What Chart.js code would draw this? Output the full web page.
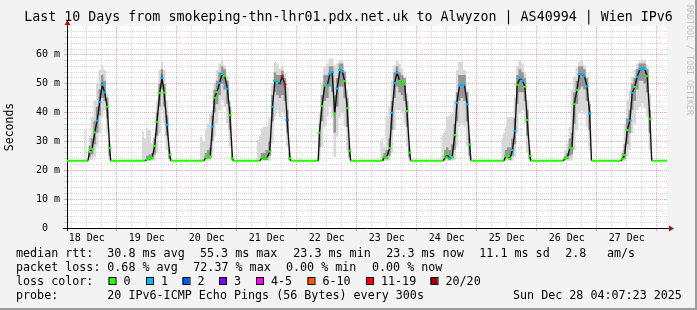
<!DOCTYPE html>
<html><head><meta charset="utf-8">
<script src="https://cdn.jsdelivr.net/npm/chart.js@4/dist/chart.umd.min.js"></script>
<style>html,body{margin:0;padding:0;background:#f3f3f3;}canvas{display:block}</style>
</head><body>
<canvas id="c" width="697" height="310"></canvas>
<script>
const titleText = 'Last 10 Days from smokeping-thn-lhr01.pdx.net.uk to Alwyzon | AS40994 | Wien IPv6';
const dayLabels = ['18 Dec','19 Dec','20 Dec','21 Dec','22 Dec','23 Dec','24 Dec','25 Dec','26 Dec','27 Dec'];
const rangeStartHour = 4.12;   // hours after 18 Dec 00:00
const rangeEndHour = 244.12;

const hours = [
  4.12,10.7,11.3,11.9,12.5,13.1,14.2,15.2,16.2,17.2,18.2,19.2,20.2,21.2,21.6,
  33.8,34.4,35.3,36.2,37.3,38.2,39.2,40.1,41.2,42.1,43.0,44.1,45.2,45.7,
  56.9,57.6,58.9,59.6,60.5,61.4,62.3,63.1,64.1,65.2,66.1,67.2,68.3,69.3,70.3,70.7,
  79.9,80.4,81.3,82.0,82.9,84.0,85.2,86.3,87.3,88.3,89.3,90.2,91.3,92.2,93.3,93.7,
  104.6,105.1,106.1,107.2,108.3,109.3,110.2,111.2,112.2,113.3,114.2,115.2,116.2,117.2,117.6,
  129.2,129.7,130.4,130.9,132.0,133.2,134.1,135.2,136.1,137.2,138.1,139.2,140.1,141.2,141.6,
  153.6,154.2,154.7,155.3,156.1,157.2,158.2,159.2,160.1,161.1,162.1,163.1,164.2,165.2,165.7,
  177.6,178.2,178.9,179.6,180.5,181.3,182.3,183.3,184.2,185.3,186.4,187.3,188.2,189.3,189.7,
  202.6,203.3,204.3,205.3,206.1,207.0,208.1,209.1,210.1,211.1,212.1,213.2,213.9,
  225.7,226.3,227.2,228.2,229.3,230.2,231.2,232.2,233.3,234.2,235.2,236.2,237.3,238.0,244.12
];
const medianMs = [
  23.3,23.3,23.3,23.3,23.3,26.4,27.4,33.1,37.2,43.7,49.6,47.0,42.0,27.7,23.3,
  23.3,23.3,23.3,23.8,24.0,24.4,28.4,36.7,46.8,52.0,46.9,35.8,25.4,23.3,
  23.3,23.3,23.3,24.5,24.7,24.8,35.1,45.1,47.1,50.3,53.3,52.7,48.3,39.1,24.1,23.3,
  23.3,23.3,23.3,24.4,24.1,24.1,26.5,42.0,51.0,50.4,50.1,52.6,49.7,37.4,24.1,23.3,
  23.3,33.0,42.2,49.3,49.6,53.5,54.0,39.7,48.3,54.7,54.3,50.9,41.5,26.8,23.3,
  23.3,23.3,23.3,24.5,24.5,27.7,39.9,50.3,53.8,51.0,50.3,49.8,40.5,26.1,23.3,
  23.3,23.3,23.3,24.5,25.5,24.1,24.6,32.2,43.4,49.3,49.6,49.6,42.9,28.9,23.3,
  23.3,23.3,23.3,24.9,24.9,24.1,27.0,33.7,49.6,51.9,51.0,48.9,37.4,25.0,23.3,
  23.3,24.1,24.5,27.8,27.6,42.9,47.8,53.3,53.3,52.6,49.1,39.7,23.3,
  23.3,24.0,25.3,33.9,37.2,46.8,48.9,52.4,55.0,55.3,55.1,52.6,37.7,23.3,23.3
];
const n = null;
const lossBucket = [
  n,n,n,n,n,0,0,0,1,1,1,1,0,0,n,
  n,n,n,0,0,0,0,0,0,1,0,1,0,n,
  n,n,n,0,0,0,1,0,0,1,1,0,1,0,0,n,
  n,n,n,0,0,0,0,1,1,0,2,6,6,2,0,n,
  n,0,0,0,1,1,1,0,1,1,1,0,0,0,n,
  n,n,n,0,0,0,1,1,1,0,0,0,0,0,n,
  n,n,n,0,0,1,0,0,1,1,1,1,1,0,n,
  n,n,n,0,0,0,1,1,0,1,1,0,0,0,n,
  n,0,0,0,0,0,0,1,1,1,1,1,n,
  n,0,0,0,1,1,0,1,1,1,1,0,0,n,n
];
const smokeMin = [
  23.3,23.3,23.3,23.3,23.3,23.5,23.5,24.5,28.2,32.8,38.5,40.8,32.8,23.5,23.3,
  23.3,23.3,23.3,23.3,23.3,23.3,23.5,25.9,32.8,40.8,36.2,27.0,23.3,23.3,
  23.3,23.3,23.3,23.3,23.3,23.3,24.7,31.6,36.2,40.8,44.3,42.0,36.2,28.2,23.3,23.3,
  23.3,23.3,23.3,23.3,23.3,23.3,23.3,29.3,38.5,40.8,38.5,39.7,38.5,28.2,23.3,23.3,
  23.3,23.5,28.2,35.1,38.5,42.0,38.5,24.7,31.6,38.5,39.7,35.1,27.0,23.5,23.3,
  23.3,23.3,23.3,23.3,23.3,23.3,26.0,33.9,40.8,40.8,39.7,36.2,28.2,23.3,23.3,
  23.3,23.3,23.3,23.3,23.3,23.3,23.3,23.5,28.2,35.1,36.2,35.1,28.2,23.5,23.3,
  23.3,23.3,23.3,23.3,23.3,23.3,23.3,24.7,32.8,39.7,40.8,36.2,26.0,23.3,23.3,
  23.3,23.3,23.3,23.3,23.5,27.0,33.9,39.7,40.8,39.7,35.1,27.0,23.3,
  23.3,23.3,23.3,24.7,27.0,32.8,36.2,40.8,42.0,43.1,41.5,38.5,27.0,23.3,23.3
];
const smokeLo = [
  23.3,23.3,23.3,23.3,23.3,24.5,25.5,29.0,33.0,39.0,45.0,44.0,38.0,25.0,23.3,
  23.3,23.3,23.3,23.5,23.5,23.8,25.5,32.0,42.0,48.0,42.0,32.0,24.0,23.3,
  23.3,23.3,23.3,23.8,24.0,24.0,30.0,40.0,43.0,46.0,50.0,48.0,43.0,34.0,23.5,23.3,
  23.3,23.3,23.3,23.8,23.6,23.6,25.0,37.0,47.0,46.0,45.0,46.0,44.0,33.0,23.5,23.3,
  23.3,28.0,37.0,44.0,45.0,49.0,47.0,33.0,42.0,49.0,49.0,45.0,35.0,24.5,23.3,
  23.3,23.3,23.3,23.8,23.8,25.0,34.0,45.0,49.0,47.0,46.0,44.0,35.0,24.5,23.3,
  23.3,23.3,23.3,23.8,24.0,23.6,24.0,27.0,37.0,44.0,45.0,44.0,37.0,25.0,23.3,
  23.3,23.3,23.3,24.0,24.0,23.6,25.0,29.0,43.0,47.0,47.0,44.0,32.0,23.8,23.3,
  23.3,23.6,23.8,25.0,25.5,36.0,43.0,48.0,49.0,48.0,44.0,34.0,23.3,
  23.3,23.6,24.0,29.0,33.0,41.0,44.0,48.0,51.0,51.0,50.0,47.0,33.0,23.3,23.3
];
const smokeHi = [
  23.3,23.3,23.3,23.3,23.3,28.5,31.0,37.0,42.0,48.0,53.0,51.0,45.0,29.0,23.3,
  23.3,23.3,23.3,25.0,25.5,26.0,31.0,40.0,50.0,55.0,50.0,39.0,27.0,23.3,
  23.3,23.3,23.3,26.0,27.0,28.0,39.0,48.0,51.0,54.0,56.0,55.0,51.0,42.0,25.0,23.3,
  23.3,23.3,23.3,26.0,26.0,27.0,30.0,46.0,54.0,53.0,53.0,54.5,52.0,41.0,26.0,23.3,
  23.3,36.0,46.0,53.0,53.0,56.0,56.0,46.0,52.0,57.0,57.0,54.0,45.0,28.5,23.3,
  23.3,23.3,23.3,26.0,27.0,31.0,44.0,54.0,56.0,54.0,53.0,52.0,44.0,28.0,23.3,
  23.3,23.3,23.3,27.0,28.0,27.0,29.0,36.0,47.0,53.0,53.0,53.0,47.0,31.0,23.3,
  23.3,23.3,23.3,27.0,28.0,28.0,31.0,38.0,53.0,55.0,54.0,52.0,41.0,27.0,23.3,
  23.3,25.0,26.0,31.0,33.0,47.0,51.0,56.0,56.0,55.0,52.0,43.0,23.3,
  23.3,26.0,29.0,38.0,41.0,50.0,52.0,55.0,57.0,57.0,57.0,55.0,41.0,23.3,23.3
];
const smokeMax = [
  23.3,23.3,34.0,23.3,23.3,32.0,38.5,44.3,50.1,54.7,56.4,54.7,46.6,30.5,23.3,
  23.3,33.5,31.0,34.5,33.9,29.3,32.8,44.3,54.7,57.6,54.7,44.3,28.2,23.3,
  23.3,31.6,30.0,33.9,36.2,39.7,40.8,50.1,54.7,57.0,58.1,56.4,52.4,44.3,27.0,23.3,
  23.3,30.5,32.0,34.5,35.1,35.1,38.5,50.1,57.6,57.0,55.3,55.8,53.5,48.9,28.2,23.3,
  23.3,39.7,50.1,55.8,57.0,58.7,58.7,56.4,57.0,58.1,58.1,54.7,47.8,29.5,23.3,
  23.3,30.0,31.0,28.2,38.5,42.0,51.2,56.4,58.1,57.0,55.3,52.4,46.6,29.0,23.3,
  23.3,32.0,33.0,33.9,38.5,39.1,39.7,44.3,54.7,57.6,57.6,54.7,47.8,32.8,23.3,
  23.3,31.0,33.0,35.1,38.5,38.5,38.5,45.5,55.8,58.1,57.0,53.5,44.3,28.0,23.3,
  23.3,27.0,29.3,35.1,47.8,52.4,55.8,57.6,58.1,56.4,52.4,44.3,23.3,
  23.3,27.0,36.2,44.3,47.8,52.4,54.7,57.0,58.1,58.4,58.1,56.4,46.6,23.3,23.3
];

const lossLabels = ['0','1','2','3','4-5','6-10','11-19','20/20'];
const lossColors = ['#26ff00','#00b8ff','#0059ff','#7e00ff','#ff00ff','#ff5500','#ff0000','#a10000'];
const statRtt = ['30.8 ms avg','55.3 ms max','23.3 ms min','23.3 ms now','11.1 ms sd','2.8','am/s'];
const statLoss = ['0.68 % avg','72.37 % max','0.00 % min','0.00 % now'];
const probeText = '20 IPv6-ICMP Echo Pings (56 Bytes) every 300s';
const stampText = 'Sun Dec 28 04:07:23 2025';
const watermark = 'RRDTOOL / TOBI OETIKER';

const MONO = '"DejaVu Sans Mono", monospace';
const RED_GRID = 'rgba(222,48,48,0.42)';
const GRAY_GRID = 'rgba(140,140,140,0.33)';

const pts = arr => hours.map((h, i) => ({x: h, y: arr[i]}));
const isBase = c => lossBucket[c.p0DataIndex] === null && lossBucket[c.p1DataIndex] === null;

const decor = {
  id: 'decor',
  beforeDraw(chart) {
    const {ctx, chartArea: a, width, height} = chart;
    ctx.save();
    ctx.fillStyle = '#f3f3f3'; ctx.fillRect(0, 0, width, height);
    ctx.fillStyle = '#ffffff'; ctx.fillRect(a.left, a.top, a.right - a.left, a.bottom - a.top);
    ctx.restore();
  },
  afterDraw(chart) {
    const {ctx, chartArea: a, width, height} = chart;
    ctx.save();
    ctx.strokeStyle = '#000'; ctx.lineWidth = 1;
    ctx.beginPath(); ctx.moveTo(a.left - 4, a.bottom + 0.5); ctx.lineTo(a.left, a.bottom + 0.5); ctx.stroke();
    ctx.beginPath(); ctx.moveTo(a.left + 0.5, a.bottom); ctx.lineTo(a.left + 0.5, a.bottom + 3); ctx.stroke();
    ctx.beginPath(); ctx.moveTo(a.right, a.bottom + 0.5); ctx.lineTo(a.right + 2, a.bottom + 0.5); ctx.stroke();
    ctx.beginPath(); ctx.moveTo(a.left + 0.5, a.top); ctx.lineTo(a.left + 0.5, a.top - 2); ctx.stroke();
    ctx.fillStyle = '#a01414';
    ctx.beginPath(); ctx.moveTo(a.left - 2.5, a.top - 1); ctx.lineTo(a.left + 3.5, a.top - 1); ctx.lineTo(a.left + 0.5, a.top - 6); ctx.closePath(); ctx.fill();
    ctx.beginPath(); ctx.moveTo(a.right + 2, a.bottom - 2.5); ctx.lineTo(a.right + 2, a.bottom + 3.5); ctx.lineTo(a.right + 7, a.bottom + 0.5); ctx.closePath(); ctx.fill();
    ctx.fillStyle = '#9c9c9c';
    ctx.fillRect(width - 2, 0, 2, height);
    ctx.fillRect(0, height - 2, width, 2);
    ctx.save();
    ctx.translate(689, 5); ctx.rotate(Math.PI / 2);
    ctx.font = '8.3px ' + MONO; ctx.fillStyle = '#c4c4c4'; ctx.textBaseline = 'middle'; ctx.textAlign = 'left';
    ctx.fillText(watermark, 0, 0);
    ctx.restore();
    ctx.font = '11.7px ' + MONO; ctx.fillStyle = '#000'; ctx.textBaseline = 'middle'; ctx.textAlign = 'left';
    const rowY = [254, 268.3, 281.7, 296];
    const rttX = [107.3, 200, 293.3, 386.3, 479.3, 565.3, 607];
    const lossX = [107.3, 193.3, 286, 372];
    const boxX = [108.5, 146, 182.5, 219, 256, 307.5, 366, 430.5];
    ctx.fillText('median rtt:', 16, rowY[0]);
    statRtt.forEach((s, i) => ctx.fillText(s, rttX[i], rowY[0]));
    ctx.fillText('packet loss:', 16, rowY[1]);
    statLoss.forEach((s, i) => ctx.fillText(s, lossX[i], rowY[1]));
    ctx.fillText('loss color:', 16, rowY[2]);
    lossLabels.forEach((s, i) => {
      ctx.fillStyle = lossColors[i]; ctx.fillRect(boxX[i], 277.5, 7, 7);
      ctx.strokeStyle = '#000'; ctx.lineWidth = 1; ctx.strokeRect(boxX[i] + 0.5, 277.5, 7, 7);
      ctx.fillStyle = '#000'; ctx.fillText(s, boxX[i] + 15, rowY[2]);
    });
    ctx.fillText('probe:', 16, rowY[3]);
    ctx.fillText(probeText, 107.3, rowY[3]);
    ctx.fillText(stampText, 513, rowY[3]);
    ctx.restore();
  }
};

new Chart(document.getElementById('c'), {
  type: 'line',
  data: {
    datasets: [
      { label: 'median', data: pts(medianMs), yAxisID: 'y', borderColor: '#000', borderWidth: 1.4, tension: 0, fill: false,
        pointStyle: 'line', pointRadius: c => lossBucket[c.dataIndex] === null ? 0 : 1.7, pointHoverRadius: 0,
        pointBorderWidth: 2, pointBorderColor: c => lossBucket[c.dataIndex] === null ? 'transparent' : lossColors[lossBucket[c.dataIndex]],
        segment: { borderColor: c => isBase(c) ? lossColors[0] : '#111', borderWidth: c => isBase(c) ? 2 : 1.4 } },
      { label: 'smokeHi', data: pts(smokeHi), yAxisID: 'y', stepped: 'middle', fill: '+1', backgroundColor: '#969696', borderColor: 'transparent', borderWidth: 0, pointRadius: 0 },
      { label: 'smokeLo', data: pts(smokeLo), yAxisID: 'y', stepped: 'middle', fill: false, borderColor: 'transparent', borderWidth: 0, pointRadius: 0 },
      { label: 'smokeMax', data: pts(smokeMax), yAxisID: 'y', stepped: 'middle', fill: '+1', backgroundColor: '#d8d8d8', borderColor: 'transparent', borderWidth: 0, pointRadius: 0 },
      { label: 'smokeMin', data: pts(smokeMin), yAxisID: 'y', stepped: 'middle', fill: false, borderColor: 'transparent', borderWidth: 0, pointRadius: 0 }
    ]
  },
  options: {
    responsive: false, animation: false, devicePixelRatio: 1,
    layout: { padding: 0, autoPadding: false },
    plugins: {
      legend: { display: false }, tooltip: { enabled: false },
      title: { display: true, text: titleText, color: '#000', align: 'center',
        font: { family: MONO, size: 13.3, weight: 'normal', lineHeight: 1.2 }, padding: { top: 10, bottom: 0 } }
    },
    scales: {
      x: {
        type: 'linear', min: rangeStartHour, max: rangeEndHour,
        afterFit: s => { s.height = 82; },
        afterBuildTicks: s => { const t = []; for (let h = 6; h <= rangeEndHour; h += 6) t.push({ value: h }); s.ticks = t; },
        ticks: { autoSkip: false, maxRotation: 0, padding: 1, color: '#000', font: { family: MONO, size: 10 },
          callback: v => (v % 24 === 12) ? dayLabels[(v - 12) / 24] : '' },
        grid: { lineWidth: 1, drawTicks: true, tickLength: 3,
          color: c => (c.tick && c.tick.value % 24 === 0) ? RED_GRID : GRAY_GRID,
          tickColor: c => (c.tick && c.tick.value % 24 === 0) ? RED_GRID : 'transparent' },
        border: { display: true, color: '#000', width: 1, dash: [1, 1] }
      },
      y: {
        type: 'linear', position: 'left', min: 0, max: 70,
        afterFit: s => { s.width = 67; },
        afterBuildTicks: s => { const t = []; for (let v = 0; v <= 68; v += 2) t.push({ value: v }); s.ticks = t; },
        ticks: { autoSkip: false, padding: 4, color: '#000', font: { family: MONO, size: 10 },
          callback: v => v % 10 === 0 ? (v === 0 ? '0  ' : v + ' m') : '' },
        grid: { lineWidth: 1, drawTicks: true, tickLength: 3,
          color: c => (!c.tick || c.tick.value === 0) ? 'transparent' : (c.tick.value % 10 === 0 ? RED_GRID : GRAY_GRID),
          tickColor: c => (!c.tick || c.tick.value === 0) ? 'transparent' : (c.tick.value % 10 === 0 ? RED_GRID : GRAY_GRID) },
        border: { display: true, color: '#000', width: 1, dash: [1, 1] },
        title: { display: true, text: 'Seconds', color: '#000', font: { family: MONO, size: 11.5 }, padding: { top: 3.6, bottom: 0 } }
      },
      yR: {
        type: 'linear', position: 'right', display: true,
        afterFit: s => { s.width = 30; },
        grid: { display: false, drawTicks: false }, ticks: { display: false }, border: { display: false }
      }
    }
  },
  plugins: [decor]
});
</script>
</body></html>
